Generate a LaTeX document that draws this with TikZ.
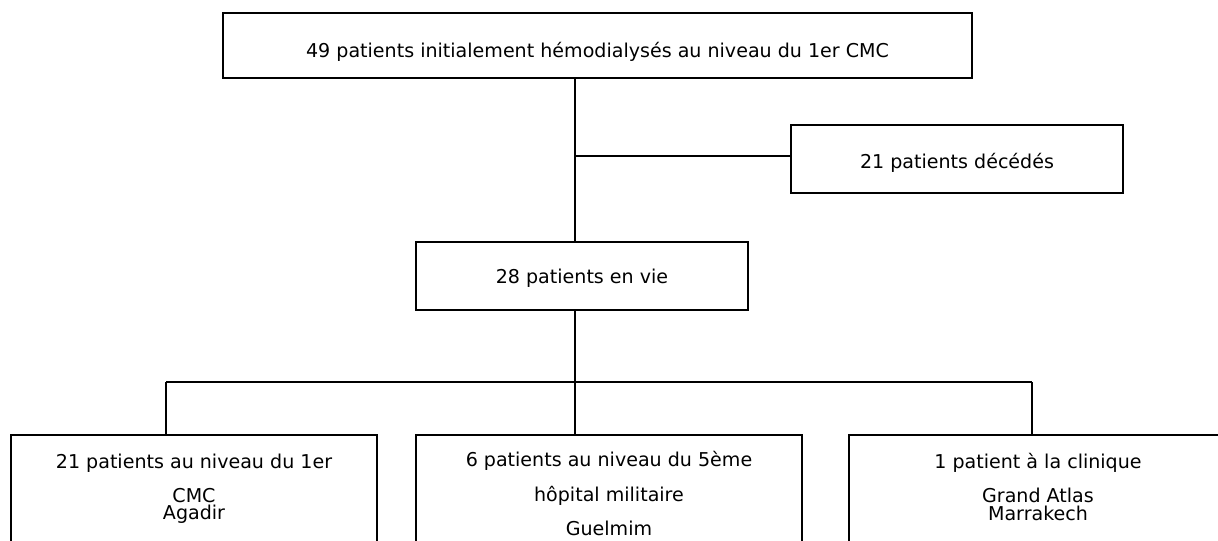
\documentclass[tikz,border=0pt]{standalone}
\usepackage{fontspec}
\setmainfont{DejaVu Sans}
\usetikzlibrary{positioning}
\tikzset{%
stage/.style={draw,rectangle,line width=1.1pt,inner sep=0pt,align=center,text depth=3.4pt,font=\fontsize{14.3}{12}\selectfont},
site/.style={stage,text depth=,minimum height=#1},
link/.style={draw,line width=1.1pt}
}

\begin{document}
\begin{tikzpicture}[x=0.75pt,y=-0.75pt]

    \useasboundingbox (0,0) rectangle (1218,540);
    \clip (0,0) rectangle (1218,540);

    \node[stage,minimum width=561.75pt,minimum height=48.75pt,text height=21.7pt] (init) at (597.5,45.5)
        {49 patients initialement hémodialysés au niveau du 1er CMC};
    \node[stage,minimum width=249pt,minimum height=51pt,text height=16.9pt] (deces) at (957,159)
        {21 patients décédés};
    \node[stage,minimum width=249pt,minimum height=51pt,text height=13.9pt] (vie) at (582,276)
        {28 patients en vie};

    \node[site=81.2pt,minimum width=274.5pt] (agadir) at (194,489.15)
        {21 patients au niveau du 1er\\[11pt] CMC\\[1pt] Agadir\strut};
    \node[site=91.2pt,minimum width=289.5pt] (guelmim) at (609,495.8)
        {6 patients au niveau du 5ème\\[10.5pt] hôpital militaire\\[11pt] Guelmim\strut};
    \node[site=81.2pt,minimum width=283.5pt] (marrakech) at (1038,489.15)
        {1 patient à la clinique\\[11pt] Grand Atlas\\[1pt] Marrakech\strut};

    \coordinate (trunk) at (575,156);
    \coordinate (bus) at (575,382);
    \coordinate (busl) at (166,382);
    \coordinate (busr) at (1032,382);

    \path[link] (init.south -| trunk) -- (vie.north -| trunk)
                (trunk) -- (trunk -| deces.west)
                (vie.south -| bus) -- (bus)
                (busl) -- (busr)
                (busl) -- (busl |- agadir.north)
                (bus) -- (bus |- guelmim.north)
                (busr) -- (busr |- marrakech.north);

\end{tikzpicture}
\end{document}
